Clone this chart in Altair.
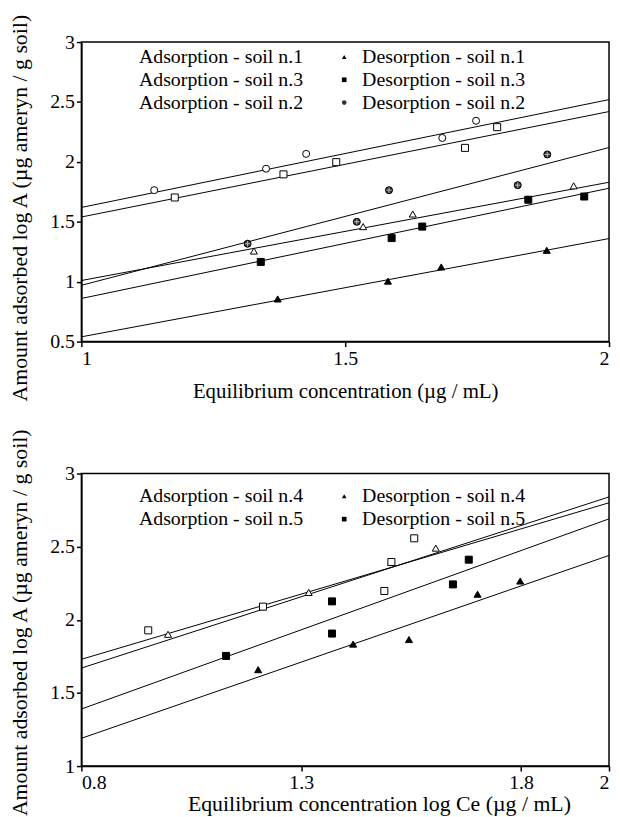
import altair as alt
import pandas as pd

FONT = "Times New Roman, Liberation Serif, serif"

# ---------------- top panel data ----------------
# order chosen so the 2-column legend (filled column by column) reads like the original
top_series = ["Adsorption - soil n.1", "Adsorption - soil n.3", "Adsorption - soil n.2",
              "Desorption - soil n.1", "Desorption - soil n.3", "Desorption - soil n.2"]
top_shapes = ["triangle-up", "square", "circle", "triangle-up", "square", "circle"]
top_fills = ["white", "white", "white", "black", "black", "#333333"]

ads1_x = [1.327, 1.534, 1.628, 1.933]
ads1_y = [1.256, 1.460, 1.565, 1.800]
ads3_x = [1.177, 1.383, 1.483, 1.727, 1.788]
ads3_y = [1.703, 1.896, 1.998, 2.117, 2.290]
ads2_x = [1.138, 1.350, 1.426, 1.684, 1.748]
ads2_y = [1.764, 1.943, 2.067, 2.200, 2.343]
des1_x = [1.372, 1.581, 1.682, 1.882]
des1_y = [0.856, 1.005, 1.123, 1.262]
des3_x = [1.340, 1.588, 1.646, 1.847, 1.953]
des3_y = [1.165, 1.364, 1.460, 1.684, 1.711]
des2_x = [1.315, 1.522, 1.583, 1.827, 1.883]
des2_y = [1.317, 1.500, 1.764, 1.806, 2.062]

top_line_x = [1.0, 2.0]
ads1_line = [1.01, 1.83]
ads3_line = [1.54, 2.42]
ads2_line = [1.62, 2.52]
des1_line = [0.54, 1.36]
des3_line = [0.86, 1.78]
des2_line = [0.97, 2.12]

# ---------------- bottom panel data ----------------
bot_series = ["Adsorption - soil n.4", "Adsorption - soil n.5",
              "Desorption - soil n.4", "Desorption - soil n.5"]
bot_shapes = ["triangle-up", "square", "triangle-up", "square"]
bot_fills = ["white", "white", "black", "black"]

ads4_x = [0.997, 1.213, 1.317, 1.505, 1.606]
ads4_y = [1.901, 2.090, 2.187, 2.395, 2.490]
ads5_x = [0.952, 1.213, 1.489, 1.505, 1.557]
ads5_y = [1.928, 2.090, 2.197, 2.395, 2.557]
des4_x = [1.202, 1.418, 1.545, 1.701, 1.798]
des4_y = [1.659, 1.834, 1.865, 2.175, 2.265]
des5_x = [1.129, 1.370, 1.370, 1.645, 1.681]
des5_y = [1.753, 1.906, 2.126, 2.242, 2.411]

bot_line_x = [0.8, 2.0]
ads4_line = [1.67, 2.84]
ads5_line = [1.73, 2.80]
des4_line = [1.19, 2.44]
des5_line = [1.39, 2.69]


def frame(names, xs, ys):
    rows = []
    for n, xv, yv in zip(names, xs, ys):
        for a, b in zip(xv, yv):
            rows.append({"series": n, "x": a, "y": b})
    return pd.DataFrame(rows)


top_pts = frame(top_series,
                [ads1_x, ads3_x, ads2_x, des1_x, des3_x, des2_x],
                [ads1_y, ads3_y, ads2_y, des1_y, des3_y, des2_y])
top_lines = frame(top_series, [top_line_x] * 6,
                  [ads1_line, ads3_line, ads2_line, des1_line, des3_line, des2_line])
bot_pts = frame(bot_series, [ads4_x, ads5_x, des4_x, des5_x],
                [ads4_y, ads5_y, des4_y, des5_y])
bot_lines = frame(bot_series, [bot_line_x] * 4,
                  [ads4_line, ads5_line, des4_line, des5_line])

YTITLE = "Amount adsorbed log A (\u00b5g ameryn / g soil)"


def panel(pts, lines, series, shapes, fills, xdom, xvals, yvals, ydom, xtitle,
          h, ytitle_y, leg_y, xtitle_size, xtitle_pad, xtitle_x=None, cross=None):
    xs = alt.Scale(domain=xdom, nice=False, zero=False)
    ys = alt.Scale(domain=ydom, nice=False, zero=False)
    xax_kw = dict(values=xvals, format="~g", title=xtitle, titleFontSize=xtitle_size,
                  titlePadding=xtitle_pad)
    if xtitle_x is not None:
        xax_kw["titleX"] = xtitle_x
    xax = alt.Axis(**xax_kw)
    yax = alt.Axis(values=yvals, format="~g", title=YTITLE, titleY=ytitle_y)
    ln = alt.Chart(lines).mark_line(color="black", strokeWidth=1).encode(
        x=alt.X("x:Q", scale=xs, axis=xax),
        y=alt.Y("y:Q", scale=ys, axis=yax),
        detail="series:N",
    )
    leg = alt.Legend(title=None, orient="none", legendX=30, legendY=leg_y, columns=2,
                     symbolStrokeColor="black", symbolStrokeWidth=1)
    pt = alt.Chart(pts).mark_point(strokeWidth=1, opacity=1, size=50).encode(
        x=alt.X("x:Q", scale=xs),
        y=alt.Y("y:Q", scale=ys),
        stroke=alt.value("black"),
        shape=alt.Shape("series:N", scale=alt.Scale(domain=series, range=shapes), legend=leg),
        fill=alt.Fill("series:N", scale=alt.Scale(domain=series, range=fills), legend=leg),
    )
    layers = [ln, pt]
    if cross is not None:
        cr = alt.Chart(pts).transform_filter(alt.datum.series == cross).mark_point(
            shape="M-1,0H1M0,-1V1", strokeWidth=1, size=30, filled=False, opacity=1
        ).encode(x=alt.X("x:Q", scale=xs), y=alt.Y("y:Q", scale=ys),
                 stroke=alt.value("#bbbbbb"))
        layers.append(cr)
    return alt.layer(*layers).properties(width=532, height=h)


top = panel(top_pts, top_lines, top_series, top_shapes, top_fills,
            [1, 2], [1, 1.5, 2], [0.5, 1, 1.5, 2, 2.5, 3], [0.5, 3],
            "Equilibrium concentration (\u00b5g / mL)", 302, 167, 5, 21, 12,
            cross="Desorption - soil n.2")
bot = panel(bot_pts, bot_lines, bot_series, bot_shapes, bot_fills,
            [0.8, 2], [0.8, 1.3, 1.8, 2], [1, 1.5, 2, 2.5, 3], [1, 3],
            "Equilibrium concentration log Ce (\u00b5g / mL)", 295, 150, 13, 22, 1,
            xtitle_x=300)

chart = alt.vconcat(top, bot, spacing=22).resolve_scale(
    shape="independent", fill="independent", x="independent", y="independent"
).resolve_legend(shape="independent", fill="independent").properties(
    padding={"top": 0, "left": 0, "right": 0, "bottom": 0}
).configure_view(stroke="black", strokeWidth=1.5).configure_axis(
    labelFont=FONT, titleFont=FONT, labelFontSize=20, titleFontSize=22,
    titleFontWeight="normal", labelColor="black", titleColor="black",
    domainColor="black", domainWidth=1.5, tickColor="black", tickSize=5, tickWidth=1.5,
    grid=False, labelPadding=2, titlePadding=18,
).configure_axisX(titlePadding=12).configure_legend(
    labelFont=FONT, labelFontSize=20, labelColor="black", symbolSize=22,
    symbolStrokeColor="black", symbolStrokeWidth=1, columnPadding=31, rowPadding=3,
    labelOffset=8, padding=0, labelLimit=0,
)

chart.save("out.html", embed_options={"renderer": "svg", "actions": False})
